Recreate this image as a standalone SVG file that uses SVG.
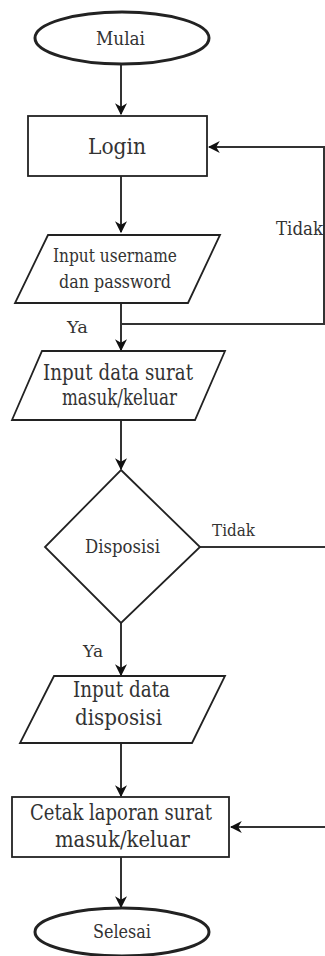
<svg xmlns="http://www.w3.org/2000/svg" width="325" height="956" viewBox="0 0 325 956">
<style>
.s{fill:#fff;stroke:#222;stroke-width:1.8}
.e{fill:#fff;stroke:#222;stroke-width:3}
.c{fill:none;stroke:#333;stroke-width:2}
text{font-family:"DejaVu Serif","Liberation Serif",serif;fill:#333;text-anchor:middle}
.lb{text-anchor:start}
</style>
<defs>
<marker id="a" viewBox="0 0 10 10" refX="9" refY="5" markerWidth="12" markerHeight="12" orient="auto" markerUnits="userSpaceOnUse">
<path d="M0,0 L10,5 L0,10 L3,5 Z" fill="#111"/>
</marker>
</defs>
<g id="connectors">
<line class="c" x1="121" y1="65" x2="121" y2="114" marker-end="url(#a)"/>
<line class="c" x1="121" y1="176" x2="121" y2="232" marker-end="url(#a)"/>
<line class="c" x1="121" y1="303" x2="121" y2="350" marker-end="url(#a)"/>
<polyline class="c" points="121,324 324,324 324,147 209,147" marker-end="url(#a)"/>
<line class="c" x1="121" y1="420" x2="121" y2="469" marker-end="url(#a)"/>
<line class="c" x1="121" y1="623" x2="121" y2="675" marker-end="url(#a)"/>
<line class="c" x1="200" y1="547" x2="325" y2="547"/>
<line class="c" x1="121" y1="743" x2="121" y2="796" marker-end="url(#a)"/>
<line class="c" x1="325" y1="827" x2="231" y2="827" marker-end="url(#a)"/>
<line class="c" x1="121" y1="857" x2="121" y2="907" marker-end="url(#a)"/>
<text class="lb" x="276" y="235" font-size="18" textLength="47" lengthAdjust="spacingAndGlyphs">Tidak</text>
<text class="lb" x="67" y="333" font-size="17" textLength="21" lengthAdjust="spacingAndGlyphs">Ya</text>
<text class="lb" x="212" y="536" font-size="17" textLength="43" lengthAdjust="spacingAndGlyphs">Tidak</text>
<text class="lb" x="83" y="657" font-size="16" textLength="20" lengthAdjust="spacingAndGlyphs">Ya</text>
</g>
<g id="mulai">
<ellipse class="e" cx="122" cy="38" rx="87" ry="26"/>
<text x="120.5" y="45" font-size="18" textLength="49" lengthAdjust="spacingAndGlyphs">Mulai</text>
</g>
<g id="login">
<rect class="s" x="28" y="116" width="179" height="60"/>
<text x="117" y="154" font-size="23" textLength="58" lengthAdjust="spacingAndGlyphs">Login</text>
</g>
<g id="input-username">
<polygon class="s" points="48,235 220,235 188,303 15,303"/>
<text x="115" y="262" font-size="19" textLength="124" lengthAdjust="spacingAndGlyphs">Input username</text>
<text x="115" y="288" font-size="19" textLength="112" lengthAdjust="spacingAndGlyphs">dan password</text>
</g>
<g id="input-surat">
<polygon class="s" points="42,351 225,351 195,420 12,420"/>
<text x="118" y="380" font-size="22" textLength="150" lengthAdjust="spacingAndGlyphs">Input data surat</text>
<text x="119.5" y="405" font-size="22" textLength="115" lengthAdjust="spacingAndGlyphs">masuk/keluar</text>
</g>
<g id="disposisi">
<polygon class="s" points="121,470 200,547 121,623 45,547"/>
<text x="122.5" y="553" font-size="18" textLength="75" lengthAdjust="spacingAndGlyphs">Disposisi</text>
</g>
<g id="input-disposisi">
<polygon class="s" points="54,676 225,676 192,743 20,743"/>
<text x="121.5" y="697" font-size="22" textLength="97" lengthAdjust="spacingAndGlyphs">Input data</text>
<text x="118.5" y="725" font-size="22" textLength="87" lengthAdjust="spacingAndGlyphs">disposisi</text>
</g>
<g id="cetak">
<rect class="s" x="12" y="797" width="217" height="60"/>
<text x="121" y="820" font-size="22" textLength="182" lengthAdjust="spacingAndGlyphs">Cetak laporan surat</text>
<text x="122.5" y="847" font-size="22" textLength="135" lengthAdjust="spacingAndGlyphs">masuk/keluar</text>
</g>
<g id="selesai">
<ellipse class="e" cx="122" cy="932" rx="87" ry="24"/>
<text x="122" y="938" font-size="18" textLength="58" lengthAdjust="spacingAndGlyphs">Selesai</text>
</g>
</svg>
